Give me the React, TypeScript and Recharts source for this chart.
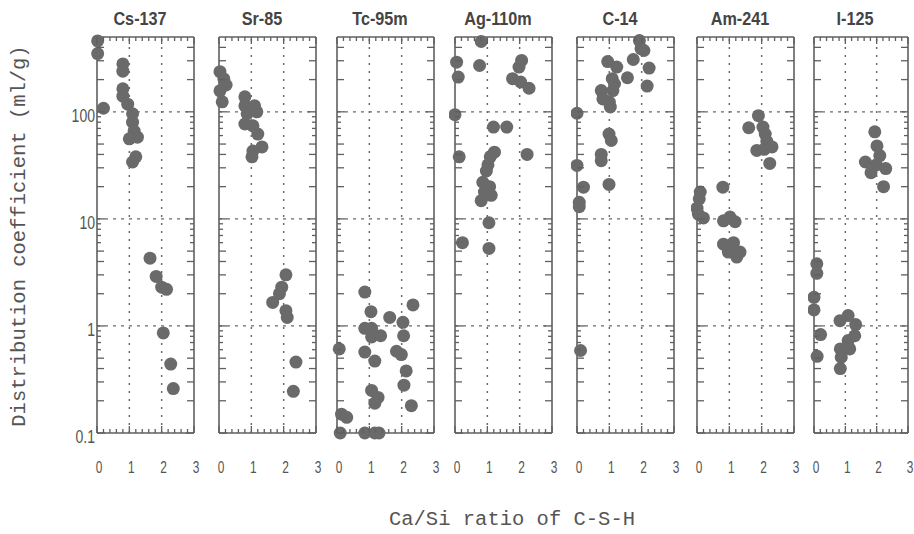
import React from "react";
import { ScatterChart, Scatter, XAxis, YAxis, ReferenceLine } from "recharts";

type Pt = { x: number; y: number };
const pts = (a: number[][]): Pt[] => a.map(([x, y]) => ({ x, y }));

// panel titles
const nuclides = ["Cs-137", "Sr-85", "Tc-95m", "Ag-110m", "C-14", "Am-241", "I-125"];

// [Ca/Si, Kd (ml/g)]
const cs137 = pts([
  [0.02, 460], [0.02, 350], [0.2, 108], [0.8, 280], [0.8, 240], [0.8, 164], [0.8, 140],
  [0.95, 118], [1.1, 96], [1.1, 80], [1.15, 66], [1.25, 58], [1.0, 56], [1.2, 38], [1.1, 34],
  [1.64, 4.3], [1.83, 2.9], [2.0, 2.3], [2.15, 2.2], [2.05, 0.86], [2.28, 0.44], [2.36, 0.26],
]);
const sr85 = pts([
  [0.03, 237], [0.15, 203], [0.22, 178], [0.03, 157], [0.1, 124], [0.8, 138], [0.8, 114],
  [1.1, 114], [1.17, 100], [0.87, 96], [0.8, 77], [1.05, 74], [1.2, 62], [1.33, 47], [1.05, 43],
  [1.02, 38], [2.07, 3.0], [1.94, 2.3], [1.87, 2.0], [1.66, 1.66], [2.07, 1.39], [2.11, 1.2],
  [2.38, 0.46], [2.3, 0.245],
]);
const tc95m = pts([
  [0.86, 2.07], [2.35, 1.57], [1.05, 1.36], [1.63, 1.2], [2.04, 1.08], [0.86, 0.95], [1.07, 0.95],
  [1.07, 0.79], [1.35, 0.81], [2.06, 0.81], [0.07, 0.61], [0.86, 0.57], [1.84, 0.58], [1.99, 0.54],
  [1.17, 0.47], [2.14, 0.38], [1.07, 0.25], [2.07, 0.28], [1.27, 0.215], [1.17, 0.19], [2.3, 0.18],
  [0.14, 0.15], [0.3, 0.14], [0.1, 0.1], [0.86, 0.1], [1.17, 0.1], [1.3, 0.1],
]);
const ag110m = pts([
  [0.81, 454], [0.05, 291], [0.76, 271], [0.1, 211], [2.06, 302], [1.98, 262], [1.78, 204],
  [2.03, 190], [2.29, 166], [0.0, 94], [1.19, 72], [1.6, 72], [1.22, 42], [1.09, 38], [0.13, 38],
  [2.23, 40], [1.02, 32], [0.97, 28], [0.86, 22], [1.07, 20], [0.91, 17.8], [1.12, 16.6],
  [0.81, 14.8], [1.05, 9.2], [0.23, 6.0], [1.05, 5.3],
]);
const c14 = pts([
  [1.93, 463], [1.98, 390], [2.07, 374], [1.74, 308], [0.95, 295], [1.23, 262], [2.23, 256],
  [1.56, 208], [1.09, 204], [1.16, 182], [2.17, 174], [0.75, 158], [1.11, 158], [0.8, 132],
  [1.0, 123], [1.03, 111], [0.0, 97], [0.99, 62], [1.06, 54], [0.75, 40], [0.75, 35], [0.0, 31.6],
  [0.99, 21], [0.2, 19.8], [0.07, 14.3], [0.07, 13], [0.11, 0.59],
]);
const am241 = pts([
  [1.9, 92], [1.6, 71], [2.04, 72], [2.11, 62], [2.16, 53], [2.32, 47], [1.85, 43.6], [2.08, 44.6],
  [2.25, 33], [0.8, 19.8], [0.1, 17.8], [0.07, 15.4], [0.0, 12.6], [0.04, 11.1], [0.2, 10.2],
  [0.82, 9.6], [1.02, 10.4], [1.18, 9.4], [0.82, 5.8], [1.13, 6.0], [0.97, 4.9], [1.33, 4.9],
  [1.23, 4.4], [1.0, 5.3],
]);
const i125 = pts([
  [1.94, 65], [2.01, 48], [2.1, 39], [1.64, 34], [1.99, 32], [2.29, 29.5], [1.82, 27], [2.22, 20],
  [0.09, 3.8], [0.09, 3.1], [0.0, 1.85], [0.0, 1.41], [0.21, 0.83], [0.1, 0.52], [0.83, 1.12],
  [1.09, 1.25], [1.33, 1.03], [1.3, 0.81], [1.09, 0.73], [1.14, 0.61], [0.84, 0.61], [0.87, 0.51],
  [0.84, 0.4],
]);
const panelData = [cs137, sr85, tc95m, ag110m, c14, am241, i125];

const yTicks = [
  0.1, 0.2, 0.3, 0.4, 0.5, 0.6, 0.7, 0.8, 0.9,
  1, 2, 3, 4, 5, 6, 7, 8, 9,
  10, 20, 30, 40, 50, 60, 70, 80, 90,
  100, 200, 300, 400,
];
const yLabels = [0.1, 1, 10, 100];
const yGrid = [1, 10, 100];
const xTicks = [0, 0.2, 0.4, 0.6, 0.8, 1, 1.2, 1.4, 1.6, 1.8, 2, 2.2, 2.4, 2.6, 2.8, 3];
const xGrid = [1, 2];

// layout (px)
const panelLeft = [97, 219, 337, 455, 577, 697, 814];
const panelWidth = [97, 97, 97, 97, 97, 97, 94];
const PH = 396;
const TOP = 37;

const GREY = "#5f5f5f";
const TXT = "#555";
const DOT = "#6a6a6a";

const yLen = (v: number) => {
  const m = Math.round(v / Math.pow(10, Math.floor(Math.log10(v) + 1e-9)));
  if (m === 1) return 8;
  return m <= 5 ? 7 : 4;
};
const isMajor = (v: number) => Math.abs(v - Math.round(v)) < 1e-6;

const LeftTick = (p: any) => {
  const { x, y, payload, showLabel } = p;
  const v = payload.value;
  return (
    <g>
      <line x1={x} x2={x + yLen(v)} y1={y} y2={y} stroke={GREY} strokeWidth={1.3} />
      {showLabel && yLabels.includes(v) && (
        <text
          transform={`translate(${x - 2},${y + 3}) scale(0.78,1)`}
          textAnchor="end"
          dominantBaseline="central"
          fontSize={18}
          fill={TXT}
        >
          {String(v)}
        </text>
      )}
    </g>
  );
};

const RightTick = ({ x, y, payload }: any) => (
  <line x1={x} x2={x - yLen(payload.value)} y1={y} y2={y} stroke={GREY} strokeWidth={1.3} />
);

const BottomTick = ({ x, y, payload }: any) => {
  const v = payload.value;
  const major = isMajor(v);
  return (
    <g>
      <line x1={x} x2={x} y1={y} y2={y - (major ? 7 : 4)} stroke={GREY} strokeWidth={1.3} />
      {major && (
        <text
          transform={`translate(${x + 2},${y + 40}) scale(0.7,1)`}
          textAnchor="middle"
          fontSize={17}
          fill={TXT}
        >
          {String(v)}
        </text>
      )}
    </g>
  );
};

const TopTick = ({ x, y, payload }: any) => (
  <line x1={x} x2={x} y1={y} y2={y + (isMajor(payload.value) ? 7 : 4)} stroke={GREY} strokeWidth={1.3} />
);

const Dot = (p: any) => <circle cx={p.cx} cy={p.cy} r={6.5} fill={DOT} />;
const NoDot = () => <g />;

function Panel({ idx }: { idx: number }) {
  // outer box of the chart; each axis band is 1px wide so the axes draw
  const ml = idx === 0 ? 40 : 6;
  const mr = 6;
  const mt = 4;
  const mb = 46;
  const PW = panelWidth[idx];
  const data = panelData[idx];
  const axisLine = { stroke: GREY, strokeWidth: 1.6 };
  return (
    <div style={{ position: "absolute", left: panelLeft[idx] - ml, top: TOP - mt }}>
      <ScatterChart
        width={ml + PW + mr}
        height={mt + PH + mb}
        margin={{ top: mt - 1, right: mr - 1, bottom: mb - 1, left: ml - 1 }}
      >
        <XAxis
          xAxisId="b"
          dataKey="x"
          type="number"
          domain={[0, 3]}
          ticks={xTicks}
          interval={0}
          height={1}
          tickSize={0}
          tickMargin={0}
          tickLine={false}
          axisLine={axisLine}
          tick={BottomTick}
        />
        <XAxis
          xAxisId="t"
          orientation="top"
          dataKey="x"
          type="number"
          domain={[0, 3]}
          ticks={xTicks}
          interval={0}
          height={1}
          tickSize={0}
          tickMargin={0}
          tickLine={false}
          axisLine={axisLine}
          tick={TopTick}
        />
        <YAxis
          yAxisId="l"
          dataKey="y"
          type="number"
          scale="log"
          domain={[0.1, 500]}
          ticks={yTicks}
          interval={0}
          width={1}
          tickSize={0}
          tickMargin={0}
          tickLine={false}
          axisLine={axisLine}
          tick={(p: any) => <LeftTick {...p} showLabel={idx === 0} />}
        />
        <YAxis
          yAxisId="r"
          orientation="right"
          dataKey="y"
          type="number"
          scale="log"
          domain={[0.1, 500]}
          ticks={yTicks}
          interval={0}
          width={1}
          tickSize={0}
          tickMargin={0}
          tickLine={false}
          axisLine={axisLine}
          tick={RightTick}
        />
        {yGrid.map((v) => (
          <ReferenceLine
            key={`h${v}`}
            xAxisId="b"
            yAxisId="l"
            y={v}
            stroke="#6a6a6a"
            strokeWidth={1.3}
            strokeDasharray="3 5"
          />
        ))}
        {xGrid.map((v) => (
          <ReferenceLine
            key={`v${v}`}
            xAxisId="b"
            yAxisId="l"
            x={v}
            stroke="#6a6a6a"
            strokeWidth={1.5}
            strokeDasharray="2 6"
          />
        ))}
        <Scatter xAxisId="t" yAxisId="r" data={data} shape={NoDot} isAnimationActive={false} />
        <Scatter xAxisId="b" yAxisId="l" data={data} shape={Dot} isAnimationActive={false} />
      </ScatterChart>
      <div
        style={{
          position: "absolute",
          left: ml + PW / 2 - 56,
          width: 100,
          top: 4 - TOP + mt,
          textAlign: "center",
          fontFamily: "'Liberation Sans', Arial, sans-serif",
          fontWeight: "bold",
          fontSize: 18,
          color: "#444",
          transform: "scaleX(0.9)",
          lineHeight: "30px",
        }}
      >
        {nuclides[idx]}
      </div>
    </div>
  );
}

export default function App() {
  return (
    <div
      style={{
        position: "absolute",
        left: 0,
        top: 0,
        width: 914,
        height: 534,
        background: "#fff",
        overflow: "hidden",
        fontFamily: "'Liberation Sans', Arial, sans-serif",
      }}
    >
      {nuclides.map((_, i) => (
        <Panel key={i} idx={i} />
      ))}
      <div
        style={{
          position: "absolute",
          left: 20 - 210,
          top: 236 - 14,
          width: 420,
          height: 28,
          lineHeight: "28px",
          textAlign: "center",
          transform: "rotate(-90deg)",
          fontFamily: "'Liberation Mono', 'DejaVu Sans Mono', monospace",
          fontSize: 20.5,
          color: TXT,
          whiteSpace: "nowrap",
        }}
      >
        Distribution coefficient (ml/g)
      </div>
      <div
        style={{
          position: "absolute",
          left: 512 - 200,
          top: 520 - 14,
          width: 400,
          height: 28,
          lineHeight: "28px",
          textAlign: "center",
          fontFamily: "'Liberation Mono', 'DejaVu Sans Mono', monospace",
          fontSize: 20.5,
          color: TXT,
          whiteSpace: "nowrap",
        }}
      >
        Ca/Si ratio of C-S-H
      </div>
    </div>
  );
}
